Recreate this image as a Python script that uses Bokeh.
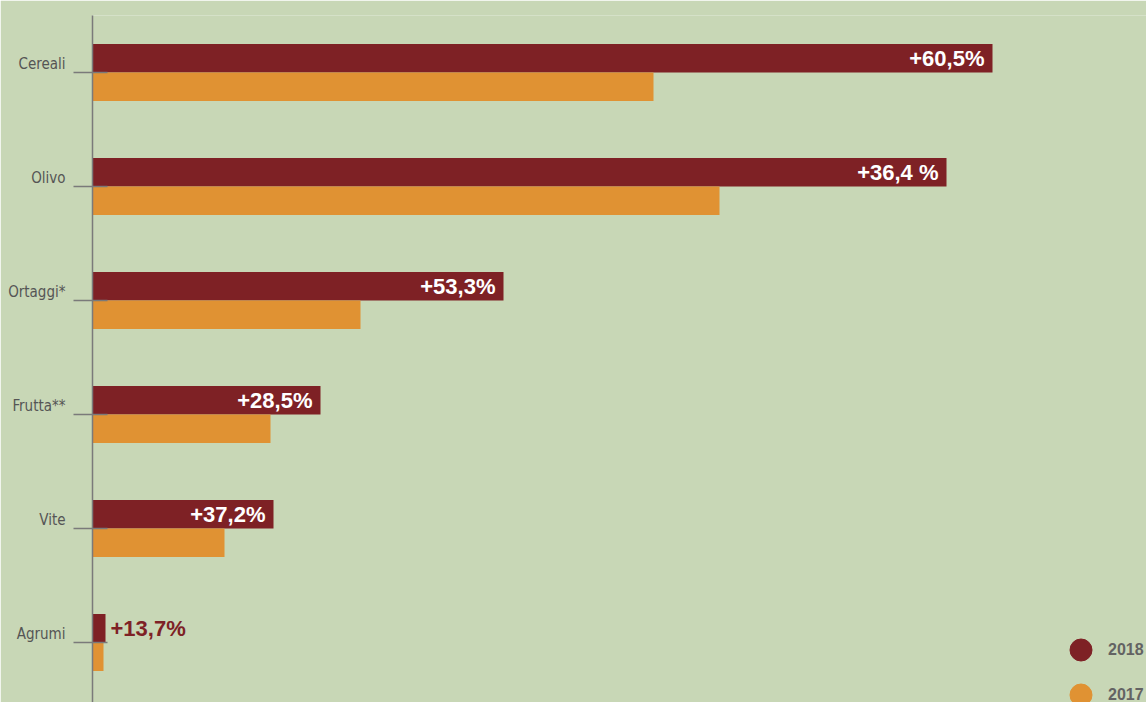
import numpy as np
from bokeh.plotting import figure
from bokeh.models import Range1d, FixedTicker, Legend, LegendItem, ColumnDataSource
from bokeh.core.properties import value
from bokeh.embed import file_html
from bokeh.resources import INLINE

categories = ["Cereali", "Olivo", "Ortaggi*", "Frutta**", "Vite", "Agrumi"]
values_2018 = [900, 854, 411, 228, 181, 13]
values_2017 = [561, 627, 268, 178, 132, 11]
change_labels = ["+60,5%", "+36,4 %", "+53,3%", "+28,5%", "+37,2%", "+13,7%"]
series_names = ["2018", "2017"]

BG = "#c8d7b6"
RED = "#7e2125"
ORANGE = "#e09233"
AXIS = "#7a7a7a"
NARROW = "DejaVu Sans Condensed"
BOLD = "Liberation Sans"

W, H = 1146, 702
BL, BT = 92, 15
n = len(categories)
frame_w = W - BL
frame_h = H - BT
px_per_cat = 114.0
idx = np.arange(n)
bar_h = 0.25

p = figure(width=W, height=H, output_backend="svg", toolbar_location=None,
           x_range=Range1d(0, frame_w),
           y_range=Range1d(-0.5 + frame_h / px_per_cat, -0.5),
           min_border_left=BL, min_border_top=BT, min_border_right=0, min_border_bottom=0,
           background_fill_color=BG, border_fill_color=BG, outline_line_color=None)
p.grid.visible = False
p.xaxis.visible = False

src = ColumnDataSource(dict(
    cat=categories,
    y18=idx - bar_h / 2,
    y17=idx + bar_h / 2,
    v18=values_2018,
    v17=values_2017,
))
r18 = p.hbar(y="y18", left=0, right="v18", height=bar_h, source=src, fill_color=RED, line_color=None)
r17 = p.hbar(y="y17", left=0, right="v17", height=bar_h, source=src, fill_color=ORANGE, line_color=None)

v18 = np.array(values_2018)
inside = v18 > 100
lab = np.array(change_labels)
src_in = ColumnDataSource(dict(x=v18[inside], y=(idx - bar_h / 2)[inside], t=lab[inside]))
src_out = ColumnDataSource(dict(x=v18[~inside], y=(idx - bar_h / 2)[~inside], t=lab[~inside]))
p.text(x="x", y="y", text="t", source=src_in, x_offset=-8, text_align="right", text_baseline="middle",
       text_color="white", text_font=value(BOLD), text_font_style="bold", text_font_size="22px")
p.text(x="x", y="y", text="t", source=src_out, x_offset=5, text_align="left", text_baseline="middle",
       text_color=RED, text_font=value(BOLD), text_font_style="bold", text_font_size="22px")

ax = p.yaxis[0]
ax.ticker = FixedTicker(ticks=list(range(n)))
ax.major_label_overrides = {i: c + "\n " for i, c in enumerate(categories)}
ax.minor_tick_line_color = None
ax.axis_line_color = AXIS
ax.axis_line_width = 1.5
ax.major_tick_line_color = AXIS
ax.major_tick_line_width = 1.3
ax.major_tick_out = 19
ax.major_tick_in = 15
ax.major_label_standoff = 8
ax.major_label_text_font = NARROW
ax.major_label_text_font_size = "15px"
ax.major_label_text_color = "#555555"
ax.major_label_text_line_height = 0.95

dot18 = p.scatter(x=[np.nan], y=[np.nan], size=22, color=RED)
dot17 = p.scatter(x=[np.nan], y=[np.nan], size=22, color=ORANGE)


def make_legend(label, renderer, loc):
    return Legend(items=[LegendItem(label=label, renderers=[renderer])],
                  glyph_width=55, glyph_height=55, spacing=0, label_standoff=0,
                  padding=0, margin=0, border_line_color=None, background_fill_alpha=0,
                  label_text_font=BOLD, label_text_font_style="bold", label_text_font_size="16px",
                  label_text_color="#636363", location=loc)


p.add_layout(make_legend(series_names[0], dot18, (961, 25)), "center")
p.add_layout(make_legend(series_names[1], dot17, (961, -20)), "center")

open("out.html", "w").write(file_html(p, INLINE))
